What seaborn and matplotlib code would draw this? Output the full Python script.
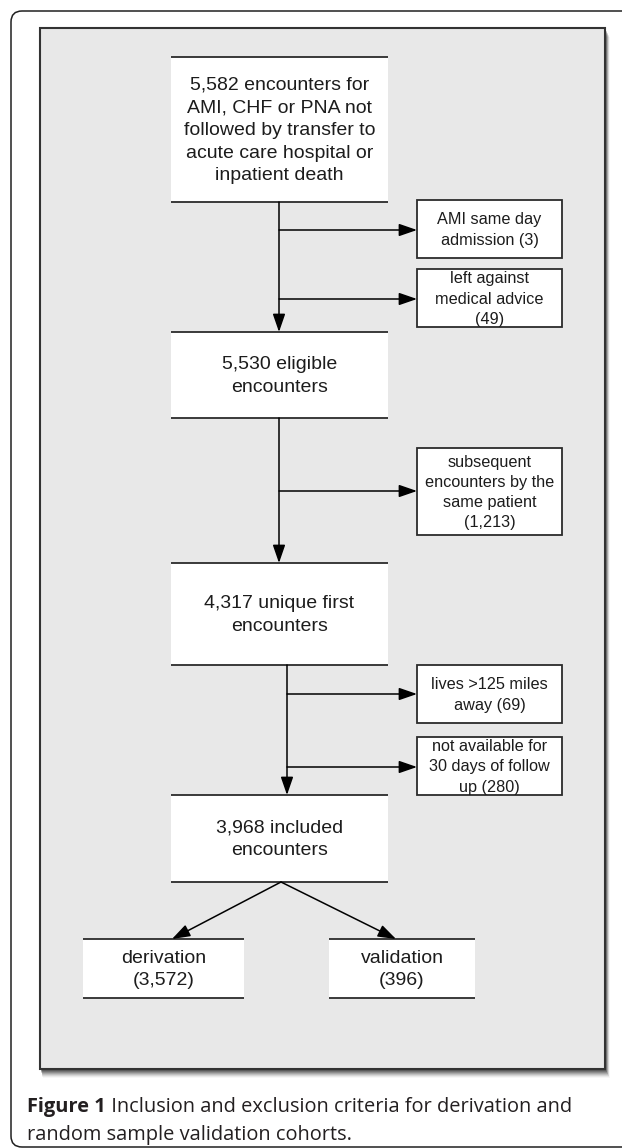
import numpy as np
import matplotlib
matplotlib.use("Agg")
import matplotlib.pyplot as plt
from matplotlib.patches import Rectangle, FancyBboxPatch
import seaborn as sns

# flow chart content
main_labels = ["5,582 encounters for\nAMI, CHF or PNA not\nfollowed by transfer to\nacute care hospital or\ninpatient death",
               "5,530 eligible\nencounters",
               "4,317 unique first\nencounters",
               "3,968 included\nencounters"]
excl_labels = ["AMI same day\nadmission (3)",
               "left against\nmedical advice\n(49)",
               "subsequent\nencounters by the\nsame patient\n(1,213)",
               "lives >125 miles\naway (69)",
               "not available for\n30 days of follow\nup (280)"]
excl_from = [0, 0, 1, 2, 2]          # which main box each exclusion leaves from
split_labels = ["derivation\n(3,572)", "validation\n(396)"]
caption_bold = "Figure 1"
caption_rest = [" Inclusion and exclusion criteria for derivation and",
                "random sample validation cohorts."]

# layout (pixel space of the 622x1148 picture)
main_x = (171, 388)
main_y = [(57, 202), (332, 418), (563, 665), (795, 882)]
trunk_x = [279, 279, 287]
excl_x = (417, 562)
excl_y = [(200, 258), (269, 327), (448, 535), (665, 723), (737, 795)]
excl_arrow_y = [230, 299, 491, 694, 767]
split_x = [(83, 244), (329, 475)]
split_y = (939, 998)
split_tip_x = [172, 396]

sns.set_theme(style="white")
plt.rcParams['font.family'] = ['Liberation Sans', 'DejaVu Sans']

ink = "#1c1c1c"
line_c = "#2b2b2b"
panel_c = "#e8e8e8"

fig = plt.figure(figsize=(6.22, 11.48), dpi=100)
ax = fig.add_axes([0, 0, 1, 1])
ax.set_xlim(0, 622)
ax.set_ylim(1148, 0)
ax.axis("off")

# outer rounded frame (runs past the right / bottom edge)
ax.add_patch(FancyBboxPatch((11, 11), 640, 1136, boxstyle="round,pad=0,rounding_size=11",
                            fc="white", ec="#202020", lw=1.1, zorder=0))

# grey panel with a soft shadow
for k, a in zip(range(9, 0, -1), np.linspace(0.06, 0.45, 9)):
    ax.add_patch(Rectangle((40 + k * 0.3, 28 + k), 565 + k * 0.2, 1041, fc="black",
                           ec="none", alpha=a * 0.5, zorder=1))
ax.add_patch(Rectangle((40, 28), 565, 1041, fc=panel_c, ec="#333333", lw=1.5, zorder=2))


def arrow(x0, y0, x1, y1):
    ax.annotate("", xy=(x1, y1), xytext=(x0, y0),
                arrowprops=dict(arrowstyle="-|>,head_length=1.1,head_width=0.38",
                                mutation_scale=10, color="black", lw=1.1,
                                shrinkA=0, shrinkB=0), zorder=4)


# main boxes: white with rules at top and bottom only
for lab, (y0, y1) in zip(main_labels, main_y):
    ax.add_patch(Rectangle((main_x[0], y0), main_x[1] - main_x[0], y1 - y0,
                           fc="white", ec="none", zorder=3))
    ax.hlines([y0, y1], main_x[0], main_x[1], color=line_c, lw=1.3, zorder=4)
    ax.text((main_x[0] + main_x[1]) / 2, (y0 + y1) / 2 + 1, lab, ha="center", va="center",
            fontsize=14, color=ink, linespacing=1.43, zorder=5)

# trunk arrows between main boxes
for i, tx in enumerate(trunk_x):
    arrow(tx, main_y[i][1], tx, main_y[i + 1][0])

# exclusion boxes with side arrows
for lab, src, (y0, y1), ay in zip(excl_labels, excl_from, excl_y, excl_arrow_y):
    ax.add_patch(Rectangle((excl_x[0], y0), excl_x[1] - excl_x[0], y1 - y0,
                           fc="white", ec=line_c, lw=1.3, zorder=3))
    ax.text((excl_x[0] + excl_x[1]) / 2, (y0 + y1) / 2 + 1, lab, ha="center", va="center",
            fontsize=11.7, color=ink, linespacing=1.42, zorder=5)
    arrow(trunk_x[src], ay, excl_x[0], ay)

# split into derivation / validation
for lab, (x0, x1), tip in zip(split_labels, split_x, split_tip_x):
    ax.add_patch(Rectangle((x0, split_y[0]), x1 - x0, split_y[1] - split_y[0],
                           fc="white", ec="none", zorder=3))
    ax.hlines(list(split_y), x0, x1, color=line_c, lw=1.3, zorder=4)
    ax.text((x0 + x1) / 2, sum(split_y) / 2 + 1, lab, ha="center", va="center",
            fontsize=14, color=ink, linespacing=1.43, zorder=5)
    arrow(281, main_y[-1][1], tip, split_y[0])

# caption
cap_font = ['Open Sans', 'DejaVu Sans']
cap_size = 14.4
fig.canvas.draw()
r = fig.canvas.get_renderer()
t1 = ax.text(27, 1107, caption_bold, fontsize=cap_size, fontweight="bold", family=cap_font,
             color="#231f20", va="center", ha="left")
w1 = t1.get_window_extent(r).width
ax.text(27 + w1, 1107, caption_rest[0], fontsize=cap_size, family=cap_font,
        color="#231f20", va="center", ha="left")
ax.text(27, 1135, caption_rest[1], fontsize=cap_size, family=cap_font,
        color="#231f20", va="center", ha="left")

fig.savefig("out.png", dpi=100)
